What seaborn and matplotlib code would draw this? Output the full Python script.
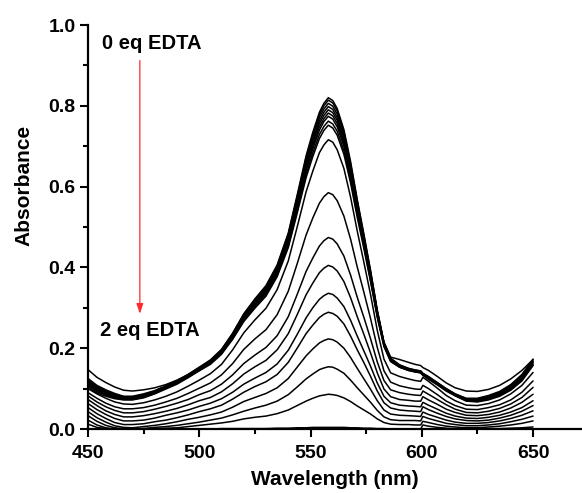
import matplotlib
matplotlib.use("Agg")
import matplotlib.pyplot as plt
import seaborn as sns
import pandas as pd
from matplotlib.ticker import MultipleLocator

# ---------------- data ----------------
wavelength = [450, 454, 458, 462, 466, 470, 475, 480, 485, 490, 495, 500, 505,
              510, 515, 520, 525, 530, 535, 540, 544, 548, 551, 554, 556, 558,
              560, 562, 565, 568, 571, 574, 577, 580, 583, 586, 590, 594, 597,
              599.5, 600.5, 603, 607, 611, 615, 620, 625, 630, 635, 640, 645, 650]

s01 = [0.147, 0.128, 0.115, 0.104, 0.096, 0.094, 0.097, 0.102, 0.110, 0.121, 0.135, 0.153, 0.171,
       0.197, 0.237, 0.285, 0.322, 0.355, 0.406, 0.485, 0.579, 0.676, 0.734, 0.784, 0.806, 0.820,
       0.813, 0.793, 0.741, 0.662, 0.568, 0.482, 0.392, 0.294, 0.215, 0.178, 0.172, 0.165, 0.160,
       0.157, 0.152, 0.145, 0.130, 0.114, 0.102, 0.094, 0.093, 0.098, 0.108, 0.124, 0.145, 0.172]
s02 = [0.125, 0.108, 0.097, 0.088, 0.081, 0.081, 0.087, 0.095, 0.107, 0.119, 0.135, 0.152, 0.169,
       0.196, 0.236, 0.284, 0.320, 0.353, 0.403, 0.482, 0.575, 0.671, 0.728, 0.778, 0.800, 0.814,
       0.807, 0.787, 0.735, 0.657, 0.564, 0.478, 0.389, 0.293, 0.214, 0.175, 0.159, 0.150, 0.146,
       0.144, 0.138, 0.130, 0.115, 0.100, 0.087, 0.076, 0.076, 0.083, 0.093, 0.110, 0.135, 0.173]
s03 = [0.121, 0.105, 0.094, 0.086, 0.080, 0.080, 0.085, 0.094, 0.106, 0.118, 0.133, 0.151, 0.168,
       0.195, 0.235, 0.282, 0.318, 0.351, 0.400, 0.478, 0.569, 0.665, 0.721, 0.771, 0.792, 0.806,
       0.799, 0.779, 0.728, 0.651, 0.559, 0.474, 0.386, 0.291, 0.213, 0.175, 0.158, 0.150, 0.146,
       0.143, 0.137, 0.129, 0.114, 0.099, 0.086, 0.075, 0.075, 0.081, 0.091, 0.108, 0.132, 0.171]
s04 = [0.118, 0.103, 0.092, 0.084, 0.078, 0.078, 0.084, 0.093, 0.105, 0.117, 0.132, 0.149, 0.166,
       0.193, 0.232, 0.278, 0.314, 0.347, 0.397, 0.473, 0.564, 0.658, 0.714, 0.763, 0.784, 0.798,
       0.791, 0.771, 0.721, 0.644, 0.554, 0.470, 0.383, 0.288, 0.212, 0.173, 0.157, 0.148, 0.145,
       0.142, 0.136, 0.129, 0.114, 0.099, 0.086, 0.074, 0.073, 0.080, 0.090, 0.106, 0.130, 0.168]
s05 = [0.115, 0.100, 0.090, 0.082, 0.077, 0.077, 0.083, 0.092, 0.103, 0.116, 0.131, 0.149, 0.165,
       0.192, 0.231, 0.276, 0.312, 0.344, 0.393, 0.469, 0.559, 0.652, 0.707, 0.756, 0.776, 0.790,
       0.783, 0.764, 0.714, 0.638, 0.549, 0.466, 0.379, 0.286, 0.210, 0.172, 0.156, 0.148, 0.144,
       0.142, 0.136, 0.127, 0.113, 0.098, 0.085, 0.073, 0.072, 0.078, 0.088, 0.104, 0.128, 0.166]
s06 = [0.112, 0.097, 0.088, 0.080, 0.076, 0.076, 0.081, 0.091, 0.102, 0.115, 0.131, 0.148, 0.165,
       0.190, 0.229, 0.274, 0.309, 0.341, 0.390, 0.465, 0.554, 0.646, 0.700, 0.748, 0.768, 0.782,
       0.775, 0.756, 0.707, 0.632, 0.543, 0.461, 0.376, 0.284, 0.209, 0.171, 0.156, 0.148, 0.144,
       0.141, 0.135, 0.126, 0.111, 0.097, 0.084, 0.072, 0.071, 0.077, 0.086, 0.102, 0.126, 0.164]
s07 = [0.109, 0.095, 0.086, 0.078, 0.074, 0.074, 0.080, 0.089, 0.101, 0.114, 0.129, 0.146, 0.163,
       0.188, 0.226, 0.271, 0.306, 0.337, 0.386, 0.461, 0.548, 0.639, 0.693, 0.740, 0.761, 0.774,
       0.767, 0.748, 0.700, 0.626, 0.538, 0.457, 0.373, 0.282, 0.208, 0.169, 0.154, 0.146, 0.142,
       0.140, 0.134, 0.126, 0.111, 0.096, 0.084, 0.071, 0.069, 0.075, 0.085, 0.100, 0.124, 0.161]
s08 = [0.106, 0.092, 0.084, 0.077, 0.073, 0.073, 0.079, 0.088, 0.101, 0.113, 0.129, 0.145, 0.162,
       0.187, 0.224, 0.268, 0.302, 0.333, 0.381, 0.454, 0.540, 0.630, 0.683, 0.729, 0.749, 0.762,
       0.755, 0.737, 0.689, 0.616, 0.530, 0.451, 0.368, 0.279, 0.206, 0.168, 0.153, 0.145, 0.142,
       0.139, 0.133, 0.125, 0.110, 0.095, 0.083, 0.070, 0.068, 0.074, 0.083, 0.098, 0.122, 0.159]
s09 = [0.102, 0.089, 0.081, 0.075, 0.072, 0.072, 0.077, 0.087, 0.099, 0.111, 0.127, 0.144, 0.160,
       0.185, 0.222, 0.266, 0.299, 0.329, 0.377, 0.449, 0.534, 0.622, 0.674, 0.719, 0.739, 0.752,
       0.745, 0.727, 0.680, 0.609, 0.524, 0.446, 0.364, 0.276, 0.204, 0.167, 0.153, 0.145, 0.141,
       0.139, 0.133, 0.123, 0.109, 0.094, 0.082, 0.069, 0.067, 0.072, 0.081, 0.096, 0.119, 0.157]
s10 = [0.100, 0.087, 0.076, 0.067, 0.062, 0.061, 0.065, 0.072, 0.081, 0.092, 0.106, 0.121, 0.137,
       0.160, 0.196, 0.238, 0.270, 0.299, 0.345, 0.416, 0.500, 0.587, 0.638, 0.684, 0.703, 0.716,
       0.710, 0.691, 0.645, 0.574, 0.490, 0.412, 0.332, 0.244, 0.173, 0.139, 0.130, 0.124, 0.120,
       0.118, 0.128, 0.118, 0.101, 0.083, 0.070, 0.059, 0.058, 0.063, 0.072, 0.087, 0.108, 0.140]
s11 = [0.090, 0.076, 0.064, 0.055, 0.050, 0.050, 0.053, 0.059, 0.067, 0.076, 0.088, 0.101, 0.114,
       0.134, 0.162, 0.197, 0.223, 0.246, 0.283, 0.341, 0.409, 0.480, 0.522, 0.559, 0.575, 0.585,
       0.580, 0.565, 0.527, 0.470, 0.401, 0.338, 0.273, 0.202, 0.144, 0.116, 0.107, 0.102, 0.099,
       0.098, 0.108, 0.100, 0.085, 0.069, 0.058, 0.049, 0.048, 0.053, 0.060, 0.072, 0.091, 0.119]
s12 = [0.082, 0.067, 0.055, 0.046, 0.040, 0.040, 0.043, 0.049, 0.056, 0.064, 0.073, 0.085, 0.095,
       0.111, 0.134, 0.162, 0.183, 0.202, 0.231, 0.278, 0.333, 0.390, 0.423, 0.453, 0.466, 0.474,
       0.470, 0.458, 0.428, 0.381, 0.326, 0.276, 0.223, 0.166, 0.120, 0.097, 0.090, 0.086, 0.084,
       0.083, 0.094, 0.086, 0.073, 0.060, 0.049, 0.041, 0.040, 0.044, 0.051, 0.062, 0.078, 0.103]
s13 = [0.073, 0.058, 0.045, 0.036, 0.030, 0.030, 0.033, 0.038, 0.044, 0.051, 0.060, 0.070, 0.078,
       0.092, 0.112, 0.136, 0.154, 0.170, 0.196, 0.236, 0.283, 0.332, 0.361, 0.387, 0.398, 0.405,
       0.401, 0.391, 0.365, 0.325, 0.278, 0.234, 0.188, 0.139, 0.099, 0.080, 0.073, 0.071, 0.069,
       0.069, 0.080, 0.072, 0.061, 0.049, 0.041, 0.034, 0.033, 0.036, 0.042, 0.052, 0.066, 0.086]
s14 = [0.063, 0.048, 0.036, 0.026, 0.020, 0.020, 0.022, 0.027, 0.034, 0.040, 0.047, 0.056, 0.064,
       0.075, 0.091, 0.111, 0.126, 0.140, 0.161, 0.195, 0.234, 0.275, 0.300, 0.321, 0.330, 0.336,
       0.333, 0.324, 0.303, 0.269, 0.230, 0.193, 0.155, 0.114, 0.081, 0.065, 0.059, 0.057, 0.056,
       0.055, 0.066, 0.059, 0.049, 0.039, 0.032, 0.027, 0.026, 0.029, 0.034, 0.042, 0.053, 0.070]
s15 = [0.053, 0.038, 0.026, 0.016, 0.011, 0.011, 0.013, 0.018, 0.022, 0.028, 0.035, 0.043, 0.050,
       0.059, 0.074, 0.091, 0.105, 0.117, 0.135, 0.165, 0.200, 0.236, 0.257, 0.276, 0.284, 0.289,
       0.286, 0.279, 0.260, 0.230, 0.196, 0.164, 0.130, 0.094, 0.065, 0.052, 0.047, 0.045, 0.044,
       0.043, 0.055, 0.048, 0.039, 0.031, 0.025, 0.021, 0.020, 0.022, 0.027, 0.034, 0.044, 0.058]
s16 = [0.043, 0.028, 0.017, 0.008, 0.004, 0.003, 0.006, 0.009, 0.013, 0.018, 0.024, 0.029, 0.035,
       0.042, 0.054, 0.068, 0.078, 0.088, 0.102, 0.125, 0.153, 0.181, 0.198, 0.213, 0.219, 0.223,
       0.221, 0.215, 0.200, 0.177, 0.150, 0.124, 0.098, 0.070, 0.047, 0.037, 0.034, 0.033, 0.032,
       0.031, 0.042, 0.036, 0.029, 0.022, 0.017, 0.014, 0.014, 0.016, 0.020, 0.026, 0.034, 0.045]
s17 = [0.033, 0.019, 0.009, 0.003, 0.001, 0.000, 0.001, 0.004, 0.006, 0.009, 0.013, 0.017, 0.022,
       0.027, 0.035, 0.044, 0.052, 0.059, 0.069, 0.085, 0.104, 0.124, 0.136, 0.147, 0.151, 0.154,
       0.153, 0.148, 0.138, 0.121, 0.102, 0.084, 0.066, 0.046, 0.030, 0.023, 0.021, 0.021, 0.021,
       0.020, 0.031, 0.026, 0.020, 0.014, 0.011, 0.008, 0.008, 0.010, 0.013, 0.018, 0.024, 0.032]
s18 = [0.022, 0.010, 0.003, 0.000, 0.000, 0.000, 0.001, 0.001, 0.002, 0.003, 0.006, 0.009, 0.012,
       0.015, 0.019, 0.025, 0.029, 0.032, 0.038, 0.047, 0.058, 0.069, 0.076, 0.082, 0.084, 0.086,
       0.085, 0.083, 0.077, 0.068, 0.057, 0.047, 0.037, 0.025, 0.016, 0.012, 0.011, 0.011, 0.010,
       0.010, 0.019, 0.016, 0.011, 0.007, 0.005, 0.003, 0.003, 0.005, 0.007, 0.010, 0.014, 0.020]
s19 = [0.012, 0.004, 0.001, 0.000, 0.000, 0.000, 0.000, 0.000, 0.000, 0.000, 0.000, 0.000, 0.000,
       0.001, 0.001, 0.001, 0.001, 0.001, 0.002, 0.002, 0.003, 0.003, 0.004, 0.004, 0.004, 0.004,
       0.004, 0.004, 0.004, 0.003, 0.003, 0.002, 0.002, 0.001, 0.001, 0.000, 0.000, 0.000, 0.000,
       0.000, 0.010, 0.007, 0.004, 0.002, 0.001, 0.000, 0.000, 0.001, 0.001, 0.002, 0.003, 0.005]

spectra = [s01, s02, s03, s04, s05, s06, s07, s08, s09, s10,
           s11, s12, s13, s14, s15, s16, s17, s18, s19]

x_ticks = [450, 500, 550, 600, 650]
y_ticks = [0.0, 0.2, 0.4, 0.6, 0.8, 1.0]
start_label = "0 eq EDTA"
end_label = "2 eq EDTA"
x_title = "Wavelength (nm)"
y_title = "Absorbance"

# ---------------- long table ----------------
rows = []
for k, s in enumerate(spectra):
    for w, a in zip(wavelength, s):
        rows.append((k, w, a))
df = pd.DataFrame(rows, columns=["curve", "wavelength", "absorbance"])

# ---------------- style ----------------
sns.set_style("ticks")
plt.rcParams["font.family"] = ["Liberation Sans", "DejaVu Sans"]
plt.rcParams["font.weight"] = "bold"
plt.rcParams["axes.labelweight"] = "bold"
plt.rcParams["text.color"] = "black"
plt.rcParams["axes.labelcolor"] = "black"
plt.rcParams["xtick.color"] = "black"
plt.rcParams["ytick.color"] = "black"

W, H = 582, 493
fig = plt.figure(figsize=(W / 100, H / 100), dpi=100)
ax = fig.add_axes([88 / W, 1 - 429 / H, (W - 88) / W, (429 - 25) / H])

sns.lineplot(data=df, x="wavelength", y="absorbance", units="curve",
             estimator=None, color="black", linewidth=1.1, sort=False,
             legend=False, ax=ax)

ax.set_xlim(450, 672)
ax.set_ylim(0, 1.0)
ax.set_xticks(x_ticks)
ax.set_yticks(y_ticks)
ax.set_xticklabels([str(t) for t in x_ticks])
ax.set_yticklabels([f"{t:.1f}" for t in y_ticks])
ax.xaxis.set_minor_locator(MultipleLocator(25))
ax.yaxis.set_minor_locator(MultipleLocator(0.1))

sns.despine(ax=ax)
for side in ("left", "bottom"):
    ax.spines[side].set_linewidth(1.6)
    ax.spines[side].set_color("black")

ax.tick_params(which="major", direction="out", length=6, width=1.5,
               labelsize=14, color="black", labelcolor="black")
ax.tick_params(axis="x", which="major", pad=5.5)
ax.tick_params(axis="y", which="major", pad=3)
ax.tick_params(which="minor", direction="out", length=3.5, width=1.5,
               color="black")

ax.set_xlabel(x_title, fontsize=15, labelpad=6, color="black")
ax.set_ylabel(y_title, fontsize=15, color="black")
ax.yaxis.set_label_coords(-0.111, 0.604)

ax.text(478.7, 0.955, start_label, ha="center", va="center",
        fontsize=14.5, fontweight="bold", color="black")
ax.text(477.8, 0.245, end_label, ha="center", va="center",
        fontsize=14.5, fontweight="bold", color="black")
ax.annotate("", xy=(473.3, 0.285), xytext=(473.3, 0.912),
            arrowprops=dict(arrowstyle="-|>,head_length=0.6,head_width=0.2",
                            color="#ff2a2a", lw=0.9, mutation_scale=10,
                            shrinkA=0, shrinkB=0))

fig.savefig("out.png", dpi=100)
